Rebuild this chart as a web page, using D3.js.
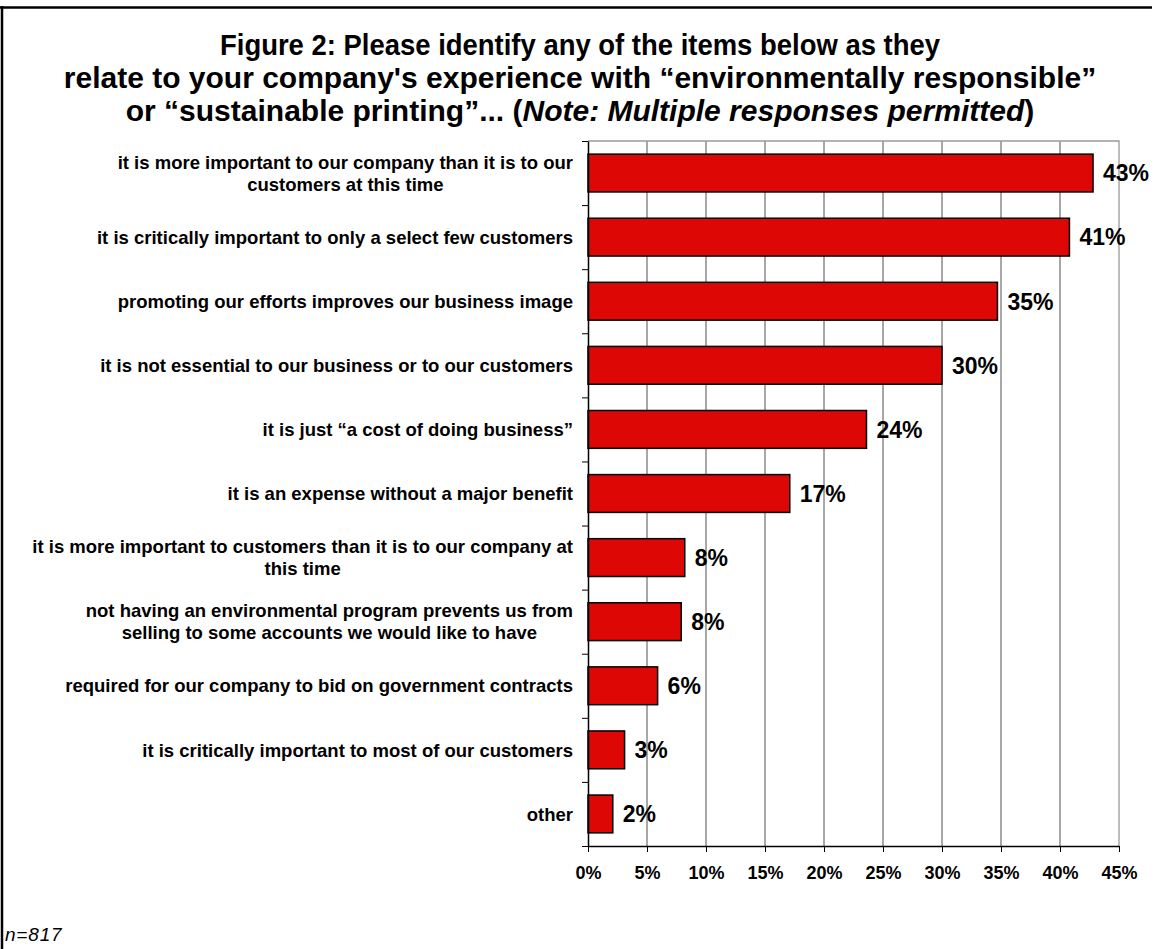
<!DOCTYPE html>
<html>
<head>
<meta charset="utf-8">
<script src="https://cdn.jsdelivr.net/npm/d3@7"></script>
<style>
  body { margin: 0; background: #fff; }
  svg text { font-family: "Liberation Sans", Arial, sans-serif; fill: #000; }
</style>
</head>
<body>
<svg id="chart" width="1156" height="949"></svg>
<script>
// data
const categories = [
    "it is more important to our company than it is to our\ncustomers at this time",
    "it is critically important to only a select few customers",
    "promoting our efforts improves our business image",
    "it is not essential to our business or to our customers",
    "it is just \u201ca cost of doing business\u201d",
    "it is an expense without a major benefit",
    "it is more important to customers than it is to our company at\nthis time",
    "not having an environmental program prevents us from\nselling to some accounts we would like to have",
    "required for our company to bid on government contracts",
    "it is critically important to most of our customers",
    "other"
];
const values = [42.8, 40.8, 34.7, 30.0, 23.6, 17.1, 8.2, 7.9, 5.9, 3.1, 2.1];
const valueLabels = ["43%", "41%", "35%", "30%", "24%", "17%", "8%", "8%", "6%", "3%", "2%"];
const xTicks = [0, 5, 10, 15, 20, 25, 30, 35, 40, 45];
const titleLines = [
    "Figure 2: Please identify any of the items below as they",
    "relate to your company's experience with \u201cenvironmentally responsible\u201d"
];
const titleLast = ["or \u201csustainable printing\u201d... (", "Note: Multiple responses permitted", ")"];
const footnote = "n=817";

const svg = d3.select("#chart");
const margin = { top: 141, left: 588, right: 1119, bottom: 846 };

// outer frame (only top and left edges show)
svg.append("line").attr("x1", 0).attr("x2", 1152).attr("y1", 7.5).attr("y2", 7.5)
    .attr("stroke", "#000").attr("stroke-width", 2.5);
svg.append("line").attr("x1", 2).attr("x2", 2).attr("y1", 6).attr("y2", 949)
    .attr("stroke", "#000").attr("stroke-width", 2.5);

// title
const title = svg.append("text")
    .attr("text-anchor", "middle")
    .style("font-size", "30px")
    .style("font-weight", "bold");
titleLines.forEach((t, i) => {
    const ts = title.append("tspan").attr("x", 580).attr("y", 55 + i * 33).text(t);
    if (i === 0) ts.attr("textLength", 720).attr("lengthAdjust", "spacingAndGlyphs");
});
const last = title.append("tspan").attr("x", 580).attr("y", 55 + 2 * 33);
last.append("tspan").text(titleLast[0]);
last.append("tspan").style("font-style", "italic").text(titleLast[1]);
last.append("tspan").text(titleLast[2]);

// scales
const x = d3.scaleLinear().domain([0, 45]).range([margin.left, margin.right]);
const y = d3.scaleBand().domain(categories)
    .range([margin.top, margin.bottom])
    .paddingInner(0.41).paddingOuter(0.205);
const yEdge = d3.scaleLinear().domain([0, categories.length]).range([margin.top, margin.bottom]);

// gridlines
svg.append("g").selectAll("line")
    .data(xTicks.filter(d => d > 0 && d < 45))
    .enter().append("line")
    .attr("x1", d => x(d)).attr("x2", d => x(d))
    .attr("y1", margin.top).attr("y2", margin.bottom)
    .attr("stroke", "#505050").attr("stroke-width", 1);

// plot frame top / right
svg.append("path")
    .attr("d", `M${margin.left},${margin.top}H${margin.right}V${margin.bottom}`)
    .attr("fill", "none").attr("stroke", "#9a9a9a").attr("stroke-width", 1.3);

// bars
svg.append("g").selectAll("rect")
    .data(values)
    .enter().append("rect")
    .attr("x", x(0))
    .attr("y", (d, i) => y(categories[i]))
    .attr("width", d => x(d) - x(0))
    .attr("height", y.bandwidth())
    .attr("fill", "#dd0806")
    .attr("stroke", "#000")
    .attr("stroke-width", 1.5);

// value labels
svg.append("g").selectAll("text")
    .data(values)
    .enter().append("text")
    .attr("x", d => x(d) + 10)
    .attr("y", (d, i) => y(categories[i]) + y.bandwidth() / 2)
    .attr("dy", "0.36em")
    .style("font-size", "23px")
    .style("font-weight", "bold")
    .text((d, i) => valueLabels[i]);

// x axis
const xAxis = svg.append("g")
    .attr("transform", `translate(0,${margin.bottom})`)
    .call(d3.axisBottom(x).tickValues(xTicks).tickFormat(d => d + "%").tickSize(6).tickSizeOuter(0));
xAxis.select(".domain").attr("stroke", "#000").attr("stroke-width", 1.5);
xAxis.selectAll(".tick line").attr("stroke", "#000");
xAxis.selectAll(".tick text")
    .attr("y", 20)
    .attr("dy", "0.71em")
    .style("font-size", "18px")
    .style("font-weight", "bold")
    .style("font-family", "'Liberation Sans', Arial, sans-serif");

// y axis: ticks between categories
const yAxis = svg.append("g")
    .attr("transform", `translate(${margin.left},0)`)
    .call(d3.axisLeft(yEdge).ticks(categories.length).tickFormat("").tickSize(6).tickSizeOuter(0));
yAxis.select(".domain").attr("stroke", "#000").attr("stroke-width", 1.5);
yAxis.selectAll(".tick line").attr("stroke", "#000");

// category labels: centred block, right edge just left of the axis
const labelRight = margin.left - 15;
const lineH = 21.7;
categories.forEach((c, i) => {
    const lines = c.split("\n");
    const cy = y(c) + y.bandwidth() / 2;
    const t = svg.append("text")
        .attr("text-anchor", "middle")
        .style("font-size", "18.5px")
        .style("font-weight", "bold");
    lines.forEach((l, j) => {
        t.append("tspan")
            .attr("y", cy + (j - (lines.length - 1) / 2) * lineH)
            .attr("dy", "0.36em")
            .text(l);
    });
    let w = 0;
    t.selectAll("tspan").each(function() { w = Math.max(w, this.getComputedTextLength()); });
    t.selectAll("tspan").attr("x", labelRight - w / 2);
});

// footnote
svg.append("text")
    .attr("x", 5)
    .attr("y", 941)
    .style("font-size", "19px")
    .style("font-style", "italic")
    .style("letter-spacing", "0.8px")
    .text(footnote);
</script>
</body>
</html>
